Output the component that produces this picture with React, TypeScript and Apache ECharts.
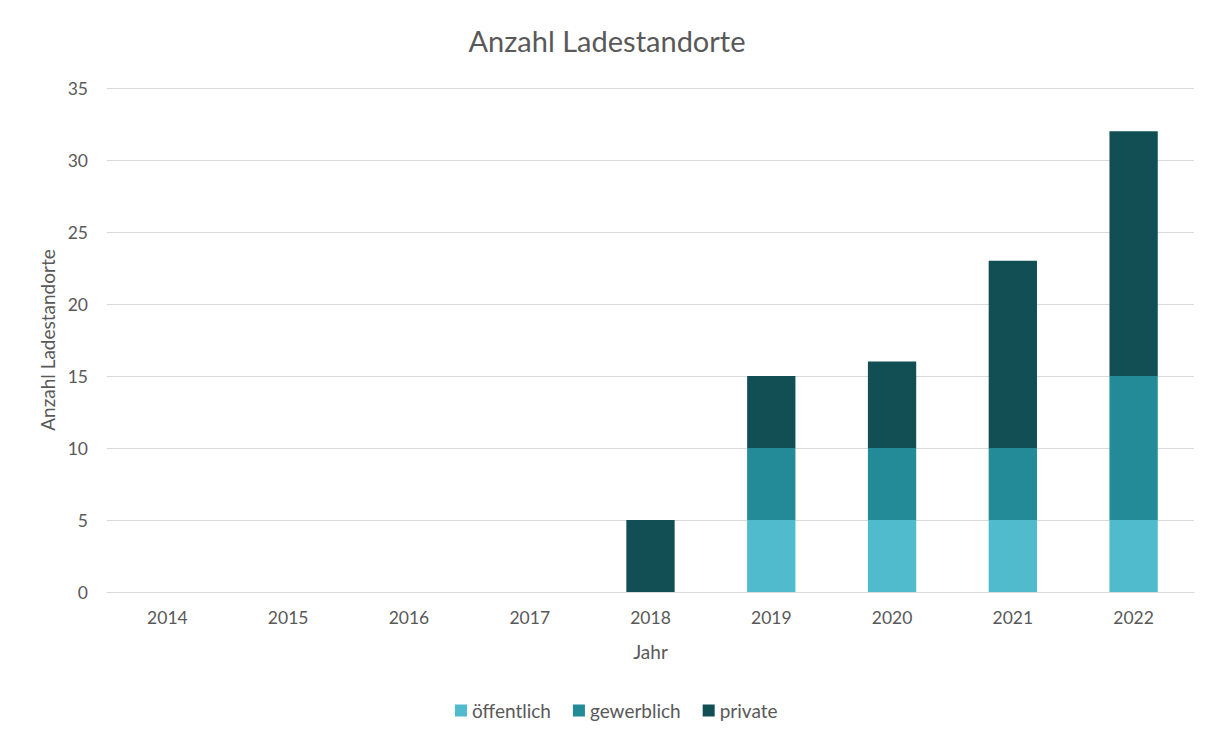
import React, { useEffect, useRef } from "react";
import * as echarts from "echarts";

const years = ["2014", "2015", "2016", "2017", "2018", "2019", "2020", "2021", "2022"];
const oeffentlich = [0, 0, 0, 0, 0, 5, 5, 5, 5];
const gewerblich = [0, 0, 0, 0, 0, 5, 5, 5, 10];
const privat = [0, 0, 0, 0, 5, 5, 6, 13, 17];
const seriesNames = ["öffentlich", "gewerblich", "private"];
const colors = ["#4FBBCD", "#228B97", "#124F54"];

export default function App() {
  const ref = useRef<HTMLDivElement>(null);
  useEffect(() => {
    const chart = echarts.init(ref.current!, null, { renderer: "svg" });
    const font = "Lato, 'Open Sans', sans-serif";
    const mk = (name: string, data: number[], color: string) => ({
      name,
      type: "bar",
      stack: "total",
      data,
      barWidth: "40%",
      itemStyle: { color },
    });
    chart.setOption({
      animation: false,
      backgroundColor: "#ffffff",
      textStyle: { fontFamily: font, color: "#595959" },
      title: {
        text: "Anzahl Ladestandorte",
        left: "center",
        top: 21,
        textStyle: { fontSize: 29, fontWeight: "normal", color: "#595959", fontFamily: font },
      },
      legend: {
        bottom: 15,
        left: 450,
        itemWidth: 12,
        itemHeight: 12,
        itemGap: 22,
        icon: "rect",
        textStyle: { fontSize: 19, color: "#595959", fontFamily: font },
        data: seriesNames,
      },
      grid: { left: 107, right: 20, top: 88, bottom: 148, containLabel: false },
      xAxis: {
        type: "category",
        data: years,
        name: "Jahr",
        nameLocation: "middle",
        nameGap: 50,
        nameTextStyle: { fontSize: 19, color: "#595959" },
        axisLine: { show: true, lineStyle: { color: "#D9D9D9" } },
        axisTick: { show: false },
        axisLabel: { fontSize: 17.5, color: "#595959", margin: 16 },
      },
      yAxis: {
        type: "value",
        min: 0,
        max: 35,
        interval: 5,
        name: "Anzahl Ladestandorte",
        nameLocation: "middle",
        nameGap: 50,
        nameTextStyle: { fontSize: 19, color: "#595959" },
        axisLine: { show: false },
        axisTick: { show: false },
        axisLabel: { fontSize: 17.5, color: "#595959", margin: 19 },
        splitLine: { lineStyle: { color: "#D9D9D9", width: 1 } },
      },
      series: [
        mk(seriesNames[0], oeffentlich, colors[0]),
        mk(seriesNames[1], gewerblich, colors[1]),
        mk(seriesNames[2], privat, colors[2]),
      ],
    });
    return () => chart.dispose();
  }, []);
  return (
    <div
      style={{
        position: "fixed",
        left: 0,
        top: 0,
        width: 1214,
        height: 740,
        background: "#fff",
      }}
    >
      <div
        style={{
          position: "absolute",
          left: 4,
          top: 4,
          width: 1206,
          height: 732,
          border: "1px solid #D9D9D9",
          boxSizing: "border-box",
        }}
      />
      <div ref={ref} style={{ position: "absolute", left: 0, top: 0, width: 1214, height: 740 }} />
    </div>
  );
}
